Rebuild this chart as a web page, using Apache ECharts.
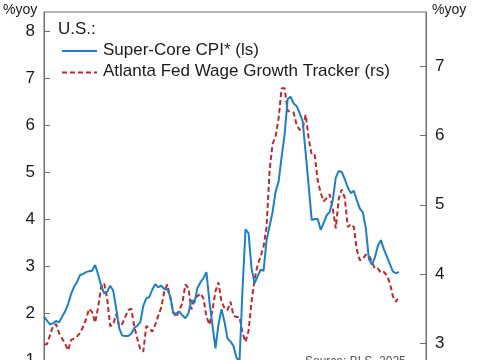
<!DOCTYPE html>
<html>
<head>
<meta charset="utf-8">
<script src="https://cdn.jsdelivr.net/npm/echarts@6/dist/echarts.min.js"></script>
<style>
html,body{margin:0;padding:0;background:#fff;}
#chart{width:485px;height:360px;}
</style>
</head>
<body>
<div id="chart"></div>
<script>
// Monthly categories (Sep 2015 onward)
var months = [];
(function(){
  var y = 2015, m = 9;
  for (var k = 0; k < 128; k++) {
    months.push(y + '-' + (m < 10 ? '0' + m : m));
    m++; if (m > 12) { m = 1; y++; }
  }
})();

// Super-Core CPI* (%yoy, left scale)
var superCoreCPI = [
  1.92,1.84,1.76,1.78,1.83,1.80,1.92,2.03,2.19,2.40,
  2.56,2.66,2.81,2.83,2.87,2.89,2.90,3.02,2.82,2.58,
  2.42,2.45,2.58,2.48,2.10,1.68,1.52,1.51,1.51,1.56,
  1.68,1.73,1.80,2.15,2.31,2.34,2.50,2.61,2.55,2.58,
  2.51,2.50,2.35,1.99,1.99,2.03,1.95,1.89,1.99,2.27,
  2.21,2.53,2.65,2.74,2.87,2.24,1.74,1.25,1.75,2.08,
  1.82,1.46,1.39,1.30,1.05,0.97,2.50,3.78,3.70,2.95,
  2.63,2.78,2.92,2.90,3.55,3.85,4.15,4.58,4.80,5.32,
  5.80,6.55,6.60,6.46,6.40,6.25,6.08,5.40,4.70,3.98,
  4.00,4.00,3.77,3.92,4.08,4.15,4.40,4.88,5.02,5.00,
  4.85,4.67,4.55,4.60,4.40,4.22,4.14,3.80,3.15,3.03,
  3.18,3.43,3.55,3.36,3.20,3.04,2.88,2.85,2.87
];

// Atlanta Fed Wage Growth Tracker (%yoy, right scale)
var wageTracker = [
  2.98,2.99,3.12,3.25,3.28,3.15,3.07,3.00,2.90,3.05,
  3.07,3.10,3.15,3.24,3.35,3.50,3.45,3.30,3.52,3.82,
  3.87,3.65,3.25,3.27,3.42,3.25,3.28,3.38,3.48,3.50,
  3.25,3.07,2.92,2.88,3.25,3.22,3.17,3.27,3.40,3.52,
  3.75,3.85,3.65,3.45,3.38,3.48,3.58,3.85,3.80,3.49,
  3.65,3.68,3.72,3.65,3.39,3.27,3.48,3.75,3.88,3.60,
  3.51,3.48,3.60,3.40,3.38,3.38,3.15,3.02,3.18,3.60,
  3.92,4.13,4.25,4.40,4.68,5.50,5.88,5.98,6.25,6.68,
  6.68,6.35,6.35,6.33,6.15,6.08,6.10,6.30,5.95,5.72,
  5.72,5.35,5.17,5.05,5.10,5.15,4.95,4.66,5.09,5.22,
  5.10,4.68,4.72,4.68,4.35,4.20,4.22,4.28,4.27,4.18,
  4.08,4.08,4.02,4.03,3.98,3.87,3.68,3.60,3.67
];

// Tick labels
var leftTicks = [0, 1, 2, 3, 4, 5, 6, 7, 8];
var rightTicks = [3, 4, 5, 6, 7];

var seriesNames = ['Super-Core CPI* (ls)', 'Atlanta Fed Wage Growth Tracker (rs)'];

var FONT = "'Liberation Sans', Arial, sans-serif";
var TXT = '#1a1a1a';
var AX = '#6f6f6f';
var BLUE = '#1f7fc5';
var RED = '#c0272d';

var chart = echarts.init(document.getElementById('chart'), null, {renderer: 'canvas'});
chart.setOption({
  animation: false,
  backgroundColor: '#ffffff',
  textStyle: {fontFamily: FONT},
  grid: {
    left: 44, right: 59, top: 12, height: 395,
    outerBoundsMode: 'none', containLabel: false,
    show: true, borderColor: AX, borderWidth: 1, backgroundColor: 'transparent'
  },
  xAxis: {
    type: 'category', data: months, boundaryGap: false,
    axisLine: {show: false}, axisTick: {show: false}, axisLabel: {show: false},
    splitLine: {show: false}
  },
  yAxis: [
    {
      type: 'value', position: 'left', min: 0, max: 8.404,
      axisLine: {show: true, lineStyle: {color: AX, width: 1}},
      axisTick: {show: true, inside: true, length: 6, customValues: leftTicks, lineStyle: {color: AX}},
      axisLabel: {show: true, customValues: leftTicks, margin: 9, fontSize: 17, fontFamily: FONT, color: TXT},
      splitLine: {show: false}
    },
    {
      type: 'value', position: 'right', min: 2.082, max: 7.782,
      axisLine: {show: true, lineStyle: {color: AX, width: 1}},
      axisTick: {show: true, inside: true, length: 6, customValues: rightTicks, lineStyle: {color: AX}},
      axisLabel: {show: true, customValues: rightTicks, margin: 9, fontSize: 17, fontFamily: FONT, color: TXT},
      splitLine: {show: false}
    }
  ],
  graphic: [
    {type: 'text', left: 3, top: 3, style: {text: '%yoy', fontSize: 14, fontFamily: FONT, fill: TXT}},
    {type: 'text', left: 432, top: 3, style: {text: '%yoy', fontSize: 14, fontFamily: FONT, fill: TXT}},
    {type: 'text', left: 58, top: 21, style: {text: 'U.S.:', fontSize: 17, fontFamily: FONT, fill: TXT}},
    {type: 'line', shape: {x1: 62, y1: 51, x2: 97, y2: 51}, style: {stroke: BLUE, lineWidth: 2}},
    {type: 'text', left: 103, top: 42, style: {text: seriesNames[0], fontSize: 17, fontFamily: FONT, fill: TXT}},
    {type: 'line', shape: {x1: 62, y1: 72.5, x2: 97, y2: 72.5}, style: {stroke: RED, lineWidth: 2, lineDash: [5, 3]}},
    {type: 'text', left: 103, top: 63, style: {text: seriesNames[1], fontSize: 17, fontFamily: FONT, fill: TXT}},
    {type: 'text', left: 305, top: 356, style: {text: 'Source: BLS, 2025', fontSize: 12, fontFamily: FONT, fill: '#555'}}
  ],
  series: [
    {
      name: seriesNames[0], type: 'line', yAxisIndex: 0,
      data: superCoreCPI, symbol: 'none', showSymbol: false, z: 3,
      lineStyle: {color: BLUE, width: 2}, itemStyle: {color: BLUE}
    },
    {
      name: seriesNames[1], type: 'line', yAxisIndex: 1,
      data: wageTracker, symbol: 'none', showSymbol: false, z: 2,
      lineStyle: {color: RED, width: 2, type: [5, 3]}, itemStyle: {color: RED}
    }
  ]
});
</script>
</body>
</html>
